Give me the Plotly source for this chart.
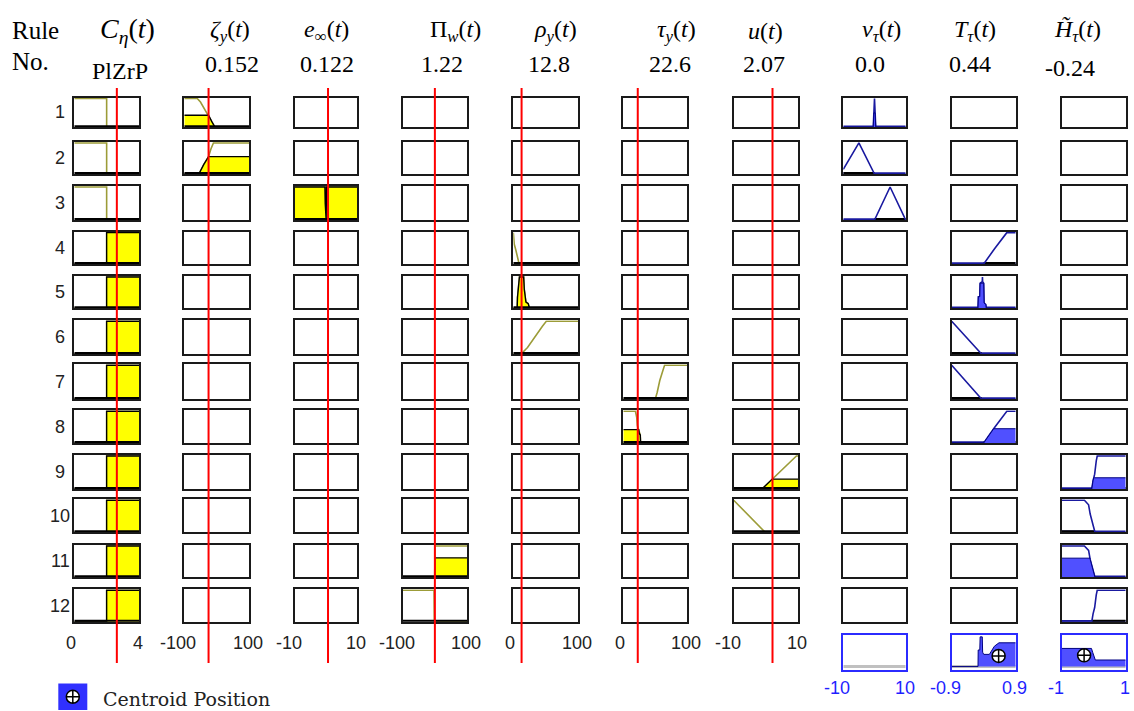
import plotly.graph_objects as go

W, H = 1134, 711

# ---------------- data ----------------
titles = ["<i>C</i><sub><i>η</i></sub>(<i>t</i>)", "<i>ζ</i><sub><i>y</i></sub>(<i>t</i>)",
          "<i>e</i><sub>∞</sub>(<i>t</i>)", "Π<sub><i>w</i></sub>(<i>t</i>)",
          "<i>ρ</i><sub><i>y</i></sub>(<i>t</i>)", "<i>τ</i><sub><i>y</i></sub>(<i>t</i>)",
          "<i>u</i>(<i>t</i>)", "<i>v</i><sub><i>τ</i></sub>(<i>t</i>)",
          "<i>T</i><sub><i>τ</i></sub>(<i>t</i>)", "<i>H̃</i><sub><i>τ</i></sub>(<i>t</i>)"]
value_labels = ["PlZrP", "0.152", "0.122", "1.22", "12.8", "22.6", "2.07", "0.0", "0.44", "-0.24"]
x_ranges = [(0, 4), (-100, 100), (-10, 10), (-100, 100), (0, 100), (0, 100), (-10, 10),
            (-10, 10), (-0.9, 0.9), (-1, 1)]
tick_labels = [("0", "4"), ("-100", "100"), ("-10", "10"), ("-100", "100"), ("0", "100"),
               ("0", "100"), ("-10", "10"), ("-10", "10"), ("-0.9", "0.9"), ("-1", "1")]
input_positions = [2.63, -25, 0.6, -0.37, 12.8, 22.6, 2.07]
rule_numbers = [str(i) for i in range(1, 13)]

# membership functions
C_LOW_X = [0, 2, 2, 4];                 C_LOW_Y = [1, 1, 0, 0]
C_HIGH_X = [0, 2, 2, 4];                C_HIGH_Y = [0, 0, 1, 1]
ZETA_Z_X = [-100, -60, -50, -40, -25, -15, -5, 100]; ZETA_Z_Y = [1, 1, 0.88, 0.68, 0.42, 0.2, 0, 0]
ZETA_S_X = [-100, -55, -40, -25, -18, -10, 100];     ZETA_S_Y = [0, 0, 0.3, 0.56, 0.8, 1, 1]
E_NZ_X = [-10, -0.4, -0.3, 0.0, 0.1, 10];            E_NZ_Y = [1, 1, 0.5, 0, 1, 1]
PI_POS_X = [-100, -1, 0, 100];          PI_POS_Y = [0, 0, 1, 1]
PI_NEG_X = [-100, -3, -2, 100];         PI_NEG_Y = [1, 1, 0, 0]
RHO_Z_X = [0, 1.5, 4, 6.5, 9, 100];     RHO_Z_Y = [1, 0.63, 0.44, 0.24, 0, 0]
RHO_M_X = [0, 6, 6.5, 8.5, 9.5, 16, 17, 19.5, 23, 25, 100]
RHO_M_Y = [0, 0, 0.35, 0.95, 1, 1, 0.6, 0.2, 0.15, 0, 0]
RHO_S_X = [0, 12, 22, 32, 45, 51, 100]; RHO_S_Y = [0, 0, 0.2, 0.5, 0.85, 1, 1]
TAU_S_X = [0, 50, 53, 57, 62, 64.5, 100]; TAU_S_Y = [0, 0, 0.2, 0.55, 0.85, 1, 1]
TAU_Z_X = [0, 19, 21, 22, 24, 25, 26.5, 27, 100]; TAU_Z_Y = [1, 1, 0.8, 0.55, 0.42, 0.3, 0.25, 0, 0]
U_POS_X = [-10, -1.2, 9.5, 10];         U_POS_Y = [0, 0, 1, 1]
U_NEG_X = [-10, -0.2, 10];              U_NEG_Y = [1, 0, 0]

V_Z_X = [-10, -0.4, 0, 0.4, 10];        V_Z_Y = [0, 0, 1, 0, 0]
V_N_X = [-10, -5, 0, 10];               V_N_Y = [0.15, 1, 0, 0]
V_P_X = [-10, 0, 5, 10];                V_P_Y = [0, 0, 1, 0]
T_P_X = [-0.9, 0, 0.3, 0.65, 0.9];      T_P_Y = [0, 0, 0.48, 1, 1]
T_Z_X = [-0.9, -0.16, -0.15, -0.11, -0.10, -0.04, -0.035, -0.03, 0.0, 0.01, 0.06, 0.07, 0.9]
T_Z_Y = [0, 0, 0.37, 0.37, 0.8, 0.85, 1.0, 0.85, 0.8, 0.17, 0.12, 0, 0]
T_N_X = [-0.9, -0.5, -0.06, 0.9];       T_N_Y = [1, 0.52, 0, 0]
H_P_X = [-1, -0.06, -0.02, 0.03, 0.08, 0.11, 1]; H_P_Y = [0, 0, 0.25, 0.45, 0.85, 1, 1]
H_N_X = [-1, -0.29, -0.16, -0.11, -0.01, 0.04, 1]; H_N_Y = [1, 1, 0.86, 0.57, 0.19, 0, 0]

# aggregated outputs
T_AGG_X = [-0.9, -0.16, -0.155, -0.11, -0.1, -0.04, -0.03, 0.0, 0.16, 0.3, 0.43, 0.9]
T_AGG_Y = [0, 0, 0.53, 0.53, 0.95, 0.95, 0.46, 0.39, 0.39, 0.65, 0.76, 0.76]
H_AGG_X = [-1, -0.07, -0.03, 0.02, 0.05, 1]
H_AGG_Y = [0.58, 0.58, 0.45, 0.25, 0.21, 0.21]
centroid_x = [None, 0.42, -0.3]
centroid_y = [None, 0.34, 0.36]

MF = {
    "C_LOW": (C_LOW_X, C_LOW_Y), "C_HIGH": (C_HIGH_X, C_HIGH_Y),
    "ZETA_Z": (ZETA_Z_X, ZETA_Z_Y), "ZETA_S": (ZETA_S_X, ZETA_S_Y),
    "E_NZ": (E_NZ_X, E_NZ_Y), "PI_POS": (PI_POS_X, PI_POS_Y), "PI_NEG": (PI_NEG_X, PI_NEG_Y),
    "RHO_Z": (RHO_Z_X, RHO_Z_Y), "RHO_M": (RHO_M_X, RHO_M_Y), "RHO_S": (RHO_S_X, RHO_S_Y),
    "TAU_S": (TAU_S_X, TAU_S_Y), "TAU_Z": (TAU_Z_X, TAU_Z_Y),
    "U_POS": (U_POS_X, U_POS_Y), "U_NEG": (U_NEG_X, U_NEG_Y),
    "V_Z": (V_Z_X, V_Z_Y), "V_N": (V_N_X, V_N_Y), "V_P": (V_P_X, V_P_Y),
    "T_P": (T_P_X, T_P_Y), "T_Z": (T_Z_X, T_Z_Y), "T_N": (T_N_X, T_N_Y),
    "H_P": (H_P_X, H_P_Y), "H_N": (H_N_X, H_N_Y),
}

_ = None
rule_inputs = [
    ["C_LOW", "ZETA_Z", _, _, _, _, _],
    ["C_LOW", "ZETA_S", _, _, _, _, _],
    ["C_LOW", _, "E_NZ", _, _, _, _],
    ["C_HIGH", _, _, _, "RHO_Z", _, _],
    ["C_HIGH", _, _, _, "RHO_M", _, _],
    ["C_HIGH", _, _, _, "RHO_S", _, _],
    ["C_HIGH", _, _, _, _, "TAU_S", _],
    ["C_HIGH", _, _, _, _, "TAU_Z", _],
    ["C_HIGH", _, _, _, _, _, "U_POS"],
    ["C_HIGH", _, _, _, _, _, "U_NEG"],
    ["C_HIGH", _, _, "PI_POS", _, _, _],
    ["C_HIGH", _, _, "PI_NEG", _, _, _],
]
rule_input_levels = [
    [0, 0.42, _, _, _, _, _],
    [0, 0.56, _, _, _, _, _],
    [0, _, 1.0, _, _, _, _],
    [1, _, _, _, 0, _, _],
    [1, _, _, _, 1.0, _, _],
    [1, _, _, _, 0, _, _],
    [1, _, _, _, _, 0, _],
    [1, _, _, _, _, 0.42, _],
    [1, _, _, _, _, _, 0.3],
    [1, _, _, _, _, _, 0],
    [1, _, _, 0.62, _, _, _],
    [1, _, _, 0, _, _, _],
]
rule_outputs = [
    ["V_Z", _, _], ["V_N", _, _], ["V_P", _, _],
    [_, "T_P", _], [_, "T_Z", _], [_, "T_N", _], [_, "T_N", _], [_, "T_P", _],
    [_, _, "H_P"], [_, _, "H_N"], [_, _, "H_N"], [_, _, "H_P"],
]
rule_output_levels = [0.5, 0, 0, 0, 0.8, 0, 0, 0.45, 0.34, 0, 0.61, 0]

# ---------------- layout geometry (pixels) ----------------
col_left = [73.3, 183.3, 294.0, 401.7, 512.3, 622.3, 732.7, 842.3, 950.7, 1060.7]
col_right = [140.0, 250.0, 358.3, 468.3, 579.0, 688.3, 799.0, 906.7, 1016.7, 1126.7]
row_top = [96.7, 141.0, 185.0, 230.7, 275.0, 319.3, 363.3, 409.3, 454.0, 498.3, 544.0, 588.3]
row_bottom = [128.3, 175.0, 221.0, 265.0, 309.3, 355.0, 400.0, 444.0, 490.0, 533.3, 578.3, 622.7]
agg_top, agg_bottom = 634.3, 670.7
title_x = [127, 230, 326, 455, 555, 676, 765, 881, 975, 1077]
value_x = [120, 232, 327, 442, 548.5, 669.5, 764, 870, 970, 1069.5]
value_y = [71, 64, 64, 64, 64, 64, 64, 64, 64, 68]

OLIVE = "#9c9c38"
YELLOW = "#ffff00"
NAVY = "#1a1aa0"
BLUEFILL = "#5050ff"
BORDER = "#1a1a1a"
AGGBORDER = "#2b2bff"

fig = go.Figure()
layout = {}
counter = [0]


def add_axis(x0, x1, y0, y1, xr, yr, color, lw=2, visible=True):
    counter[0] += 1
    n = counter[0]
    sx = "" if n == 1 else str(n)
    common = dict(showline=visible, mirror=True, linecolor=color, linewidth=lw,
                  showticklabels=False, showgrid=False, zeroline=False, ticks="",
                  fixedrange=True, visible=visible)
    layout["xaxis" + sx] = dict(domain=[x0 / W, x1 / W], range=list(xr), anchor="y" + sx, **common)
    layout["yaxis" + sx] = dict(domain=[1 - y1 / H, 1 - y0 / H], range=list(yr), anchor="x" + sx, **common)
    # invisible placeholder so that the (possibly empty) panel is drawn
    fig.add_trace(go.Scatter(x=[xr[0]], y=[yr[0]], xaxis="x" + sx, yaxis="y" + sx, mode="markers",
                             marker=dict(opacity=0, size=1), showlegend=False, hoverinfo="skip"))
    return "x" + sx, "y" + sx


def clip(xs, ys, level):
    ox, oy = [], []
    for i in range(len(xs)):
        if i > 0:
            x0, y0, x1, y1 = xs[i - 1], ys[i - 1], xs[i], ys[i]
            if (y0 - level) * (y1 - level) < 0:
                t = (level - y0) / (y1 - y0)
                ox.append(x0 + t * (x1 - x0))
                oy.append(level)
        ox.append(xs[i])
        oy.append(min(ys[i], level))
    return ox, oy


def line(xref, yref, x, y, color, width, fill=None, fillcolor=None):
    kw = dict(x=x, y=y, xaxis=xref, yaxis=yref, mode="lines",
              line=dict(color=color, width=width), showlegend=False, hoverinfo="skip")
    if fill:
        kw.update(fill=fill, fillcolor=fillcolor)
    fig.add_trace(go.Scatter(**kw))


shapes = []
annotations = []
first_row_refs = []

for r in range(12):
    for c in range(10):
        xr = x_ranges[c]
        xref, yref = add_axis(col_left[c] + 1, col_right[c] - 1, row_top[r] + 1, row_bottom[r] - 1,
                              xr, (0, 1.03), BORDER)
        if r == 0:
            first_row_refs.append(xref)
        if c < 7:
            name = rule_inputs[r][c]
            if name:
                mx, my = MF[name]
                lvl = rule_input_levels[r][c]
                line(xref, yref, mx, my, OLIVE, 1.6)
                if lvl > 0:
                    cx, cy = clip(mx, my, lvl)
                    line(xref, yref, cx, cy, "#000000", 1.4, fill="tozeroy", fillcolor=YELLOW)
                line(xref, yref, [xr[0], xr[1]], [0, 0], "#000000", 4)
        else:
            j = c - 7
            name = rule_outputs[r][j]
            if name:
                mx, my = MF[name]
                lvl = rule_output_levels[r]
                line(xref, yref, [xr[0], xr[1]], [0, 0], NAVY, 3.5)
                sup = [mx[i] for i in range(len(mx))
                       if my[i] > 0 or (i > 0 and my[i - 1] > 0) or (i < len(mx) - 1 and my[i + 1] > 0)]
                line(xref, yref, [min(sup), max(sup)], [0, 0], "#000000", 4)
                line(xref, yref, mx, my, NAVY, 1.6)
                if lvl > 0:
                    cx, cy = clip(mx, my, lvl)
                    line(xref, yref, cx, cy, "#000080", 1.0, fill="tozeroy", fillcolor=BLUEFILL)

# aggregate row
agg_data = [(None, None), (T_AGG_X, T_AGG_Y), (H_AGG_X, H_AGG_Y)]
for j in range(3):
    c = 7 + j
    xr = x_ranges[c]
    xref, yref = add_axis(col_left[c] + 1, col_right[c] - 1, agg_top + 1, agg_bottom - 1,
                          xr, (-0.1, 1.0), AGGBORDER)
    line(xref, yref, [xr[0], xr[1]], [0, 0], "#c0c0c0", 3)
    ax_, ay_ = agg_data[j]
    if ax_:
        line(xref, yref, ax_, ay_, "#000080", 1.0, fill="tozeroy", fillcolor=BLUEFILL)
    if centroid_x[j] is not None:
        fig.add_trace(go.Scatter(x=[centroid_x[j]], y=[centroid_y[j]], xaxis=xref, yaxis=yref,
                                 mode="markers", showlegend=False, hoverinfo="skip",
                                 marker=dict(symbol="circle-cross", size=13, color="white",
                                             line=dict(color="black", width=1.5))))

# red input lines
for c in range(7):
    shapes.append(dict(type="line", xref=first_row_refs[c], yref="paper",
                       x0=input_positions[c], x1=input_positions[c],
                       y0=1 - 663 / H, y1=1 - 88 / H,
                       line=dict(color="#ff0000", width=2), layer="above"))

# overlay axis for legend symbol
oxref, oyref = add_axis(0, W, 0, H, (0, W), (H, 0), BORDER, visible=False)
shapes.append(dict(type="rect", xref="paper", yref="paper", x0=58.3 / W, x1=87.3 / W,
                   y0=1 - 710 / H, y1=1 - 683.5 / H, fillcolor="#3030ff", line=dict(width=0),
                   layer="below"))
fig.add_trace(go.Scatter(x=[72.8], y=[696.8], xaxis=oxref, yaxis=oyref, mode="markers",
                         showlegend=False, hoverinfo="skip", cliponaxis=False,
                         marker=dict(symbol="circle-cross", size=13, color="white",
                                     line=dict(color="black", width=1.5))))


def ann(x, y, text, size, color="#000000", family="Liberation Serif", xanchor="center"):
    annotations.append(dict(x=x / W, y=1 - y / H, xref="paper", yref="paper", text=text,
                            showarrow=False, xanchor=xanchor, yanchor="middle",
                            font=dict(family=family, size=size, color=color)))


ann(10, 31, "Rule", 25, xanchor="left")
ann(10, 62, "No.", 25, xanchor="left")
for c in range(10):
    ann(title_x[c], 31, titles[c], 28 if c == 0 else 24)
    ann(value_x[c], value_y[c], value_labels[c], 24)
for r in range(12):
    ann(60, (row_top[r] + row_bottom[r]) / 2, rule_numbers[r], 18, "#222222", "Liberation Sans")
for c in range(10):
    ty = 643 if c < 7 else 688
    col = "#222222" if c < 7 else "#1f1fff"
    for k, px in enumerate((col_left[c], col_right[c])):
        lab = tick_labels[c][k]
        shift = -5 if lab.startswith("-") else -2
        ann(px + shift, ty, lab, 18, col, "Liberation Sans")
ann(101, 699, "Centroid Position", 19, "#222222", "DejaVu Serif", xanchor="left")

fig.update_layout(width=W, height=H, margin=dict(l=0, r=0, t=0, b=0),
                  paper_bgcolor="white", plot_bgcolor="rgba(0,0,0,0)",
                  shapes=shapes, annotations=annotations, **layout)
fig.write_html("out.html")
